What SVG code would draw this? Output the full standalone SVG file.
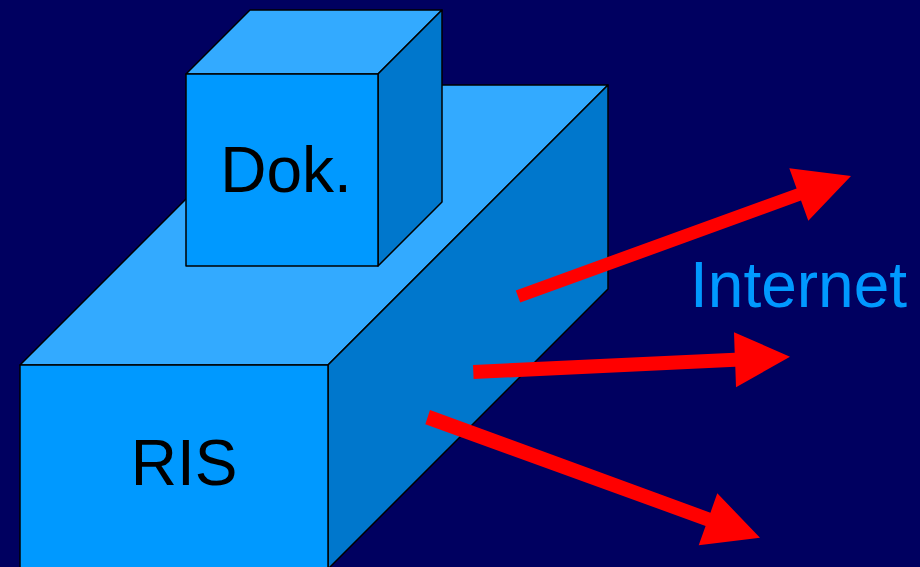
<svg xmlns="http://www.w3.org/2000/svg" width="920" height="567" viewBox="0 0 920 567">
<style>
.front{fill:#0099FF;stroke:#000;stroke-width:1.5;stroke-linejoin:round}
.top{fill:#33AAFF;stroke:#000;stroke-width:1.5;stroke-linejoin:round}
.side{fill:#0077CC;stroke:#000;stroke-width:1.5;stroke-linejoin:round}
.lbl{font-family:"Liberation Sans",Arial,sans-serif;font-size:64px;fill:#000;text-anchor:middle}
.net{font-family:"Liberation Sans",Arial,sans-serif;font-size:64px;fill:#0099FF}
.arrow{fill:#FF0000;stroke:none}
</style>
<rect width="920" height="567" fill="#000060"/>
<g id="ris">
<polygon class="top" points="20,365 300,85 608,85 328,365"/>
<polygon class="side" points="328,365 608,85 608,289 328,569"/>
<rect class="front" x="20" y="365" width="308" height="210"/>
<text class="lbl" x="184" y="485">RIS</text>
</g>
<g id="dok">
<polygon class="top" points="186,74 250,10 442,10 378,74"/>
<polygon class="side" points="378,74 442,10 442,202 378,266"/>
<rect class="front" x="186" y="74" width="192" height="192"/>
<text class="lbl" x="286" y="192">Dok.</text>
</g>
<g id="internet">
<text class="net" x="690" y="307">Internet</text>
</g>
<g id="connectors">
<polygon class="arrow" points="515.8,290.4 796.6,188.4 789.3,168.3 851,176 808.3,220.7 801,200.6 520.2,302.6"/>
<polygon class="arrow" points="473,365 734.7,352.8 734,332.3 790,356.7 736,387.3 735.3,366.8 473.6,379"/>
<polygon class="arrow" points="430,410 710.4,512.7 717.3,493.3 760,537.7 698.7,545.3 705.6,525.9 425.3,424.3"/>
</g>
</svg>
